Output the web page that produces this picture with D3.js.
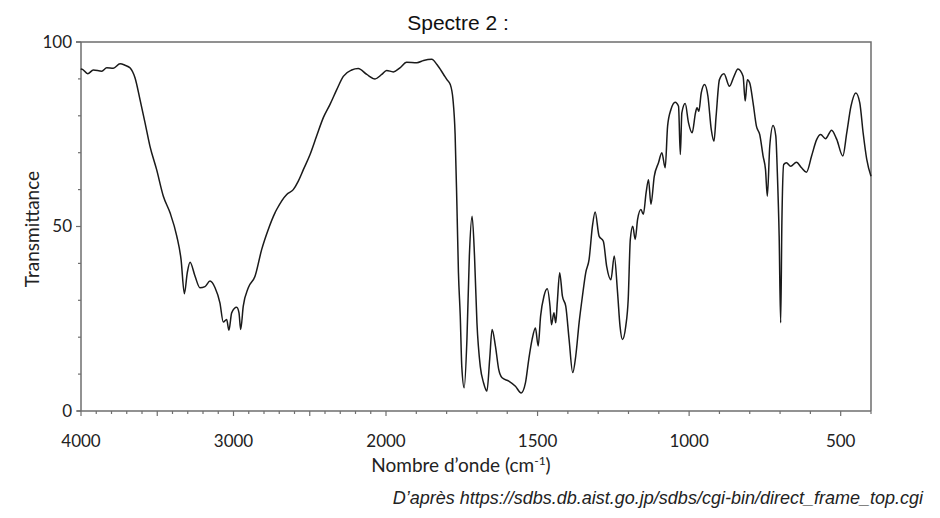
<!DOCTYPE html>
<html>
<head>
<meta charset="utf-8">
<script src="https://cdn.jsdelivr.net/npm/d3@7"></script>
<style>
  body { margin: 0; background: #fff; }
  svg { display: block; }
</style>
</head>
<body>
<div id="chart"></div>
<script>
// wavenumbers (cm-1) and transmittance (%)
const waveNumbers = [4000, 3996, 3956, 3919, 3864, 3831, 3788, 3744, 3711, 3679,
  3646, 3613, 3580, 3548, 3504, 3460, 3416, 3372, 3344, 3322,
  3303, 3285, 3252, 3220, 3187, 3154, 3121, 3089, 3067, 3045,
  3030, 3012, 2979, 2964, 2953, 2936, 2903, 2859, 2815, 2772,
  2728, 2717, 2651, 2608, 2575, 2542, 2498, 2455, 2411, 2367,
  2323, 2280, 2225, 2182, 2126, 2072, 2028, 1998, 1976, 1954,
  1932, 1898, 1876, 1849, 1832, 1810, 1799, 1788, 1779, 1772,
  1766, 1761, 1755, 1750, 1742, 1733, 1725, 1716, 1708, 1700,
  1689, 1678, 1667, 1658, 1650, 1639, 1628, 1617, 1595, 1573,
  1554, 1540, 1529, 1518, 1507, 1498, 1490, 1479, 1468, 1459,
  1454, 1446, 1440, 1435, 1427, 1418, 1407, 1396, 1384, 1374,
  1363, 1352, 1341, 1330, 1319, 1310, 1297, 1283, 1272, 1258,
  1247, 1236, 1228, 1220, 1209, 1201, 1194, 1186, 1178, 1170,
  1159, 1151, 1142, 1134, 1126, 1115, 1101, 1090, 1079, 1071,
  1060, 1046, 1035, 1029, 1024, 1013, 1002, 990, 979, 974,
  968, 960, 949, 938, 927, 918, 911, 900, 885, 867,
  852, 839, 822, 815, 808, 800, 789, 778, 767, 756,
  748, 742, 734, 723, 714, 709, 703, 698, 694, 688,
  679, 665, 646, 629, 613, 596, 579, 566, 550, 530,
  513, 493, 480, 466, 450, 437, 426, 414, 400];

const transmittance = [92.5, 92.7, 91.4, 92.4, 92.1, 93.0, 92.9, 94.1, 93.7, 93.0,
  90.3, 84.4, 78.1, 71.8, 65.4, 58.2, 53.7, 47.4, 41.1, 31.8,
  37.5, 40.3, 36.5, 33.4, 33.7, 35.2, 33.4, 29.3, 24.1, 24.8,
  21.9, 26.6, 28.1, 26.6, 22.1, 28.4, 33.4, 36.5, 43.8, 49.2,
  53.7, 54.6, 58.7, 60.0, 62.3, 65.4, 69.5, 74.5, 79.5, 83.1,
  87.1, 90.7, 92.4, 92.8, 91.2, 90.0, 91.2, 92.3, 91.9, 93.0,
  94.5, 94.4, 95.0, 95.3, 93.9, 91.2, 89.8, 88.5, 84.4, 75.0,
  55.5, 37.5, 25.7, 12.1, 6.3, 19.4, 42.0, 52.8, 42.0, 23.9,
  12.1, 7.6, 5.4, 14.0, 22.1, 17.6, 11.2, 9.0, 8.1, 6.7,
  4.9, 7.6, 14.0, 19.4, 22.5, 17.6, 25.7, 31.1, 33.1, 28.4,
  23.4, 26.6, 23.9, 29.3, 37.5, 31.1, 28.4, 19.4, 10.4, 14.9,
  23.9, 31.1, 37.5, 41.1, 50.1, 53.9, 47.4, 46.0, 39.2, 35.6,
  42.0, 32.0, 23.0, 19.4, 23.0, 30.2, 46.5, 50.1, 46.5, 51.9,
  54.6, 53.3, 59.1, 62.7, 56.0, 63.6, 67.3, 70.0, 65.9, 77.2,
  81.7, 83.7, 82.6, 69.5, 80.8, 83.3, 78.1, 75.4, 80.8, 82.2,
  81.2, 86.2, 88.5, 85.3, 76.3, 73.1, 79.9, 89.8, 91.4, 88.0,
  90.7, 92.7, 90.7, 84.0, 89.8, 88.9, 83.5, 77.2, 74.9, 69.1,
  65.4, 58.2, 71.8, 77.4, 74.5, 64.6, 47.4, 23.9, 51.0, 66.8,
  67.3, 66.3, 67.4, 65.9, 64.7, 69.1, 73.6, 74.9, 73.8, 76.1,
  73.6, 69.1, 75.4, 82.6, 86.2, 83.5, 75.4, 68.2, 63.6];

// axis breakpoints: the scale doubles below 2000 cm-1
const xBreaks = [4000, 2000, 400];
const xLabels = [4000, 3000, 2000, 1500, 1000, 500];
const yLabels = [0, 50, 100];

const width = 940, height = 518;
const margin = { top: 42, right: 69, bottom: 107, left: 81 };

const svg = d3.select("#chart")
  .append("svg")
    .attr("width", width)
    .attr("height", height)
    .attr("viewBox", `0 0 ${width} ${height}`);

const x = d3.scaleLinear()
  .domain(xBreaks)
  .range([margin.left, 386, width - margin.right]);

const y = d3.scaleLinear()
  .domain([0, 100])
  .range([height - margin.bottom, margin.top]);

const axisColor = "#6e6e6e";
const x0 = x(4000), x1 = x(400), y0 = y(0), y1 = y(100);

// frame (top and right)
svg.append("path")
  .attr("d", `M${x0 - 5},${y1}H${x1}V${y0}`)
  .attr("fill", "none")
  .attr("stroke", axisColor)
  .attr("stroke-width", 1.5);

// x axis: minor ticks every 100, longer ones every 500
const xTicks = d3.range(4000, 399, -100);
const xAxis = svg.append("g");
xAxis.append("line")
  .attr("x1", x0 - 4).attr("x2", x1)
  .attr("y1", y0).attr("y2", y0)
  .attr("stroke", axisColor).attr("stroke-width", 1.5);
xAxis.selectAll(".xtick")
  .data(xTicks)
  .join("line")
    .attr("class", "xtick")
    .attr("x1", d => x(d)).attr("x2", d => x(d))
    .attr("y1", y0)
    .attr("y2", d => y0 + (d % 500 === 0 ? 5 : 3))
    .attr("stroke", axisColor).attr("stroke-width", 1.2);
xAxis.selectAll(".xlabel")
  .data(xLabels)
  .join("text")
    .attr("class", "xlabel")
    .attr("x", d => x(d))
    .attr("y", y0 + 36)
    .attr("text-anchor", "middle")
    .attr("font-family", "Lato, 'Open Sans', sans-serif")
    .attr("font-size", 17)
    .attr("fill", "#222")
    .text(d => d);

// y axis: minor ticks every 10
const yAxis = svg.append("g");
yAxis.append("line")
  .attr("x1", x0).attr("x2", x0)
  .attr("y1", y1).attr("y2", y0)
  .attr("stroke", axisColor).attr("stroke-width", 1.5);
yAxis.selectAll(".ytick")
  .data(d3.range(0, 101, 10))
  .join("line")
    .attr("class", "ytick")
    .attr("x1", x0)
    .attr("x2", d => x0 - (d % 50 === 0 ? 5 : 3))
    .attr("y1", d => y(d)).attr("y2", d => y(d))
    .attr("stroke", axisColor).attr("stroke-width", 1.2);
yAxis.selectAll(".ylabel")
  .data(yLabels)
  .join("text")
    .attr("class", "ylabel")
    .attr("x", x0 - 9)
    .attr("y", d => y(d))
    .attr("dy", "0.35em")
    .attr("text-anchor", "end")
    .attr("font-family", "Lato, 'Open Sans', sans-serif")
    .attr("font-size", 17)
    .attr("fill", "#222")
    .text(d => d);

// the spectrum
const points = waveNumbers.map((wn, i) => [wn, transmittance[i]]);
const line = d3.line()
  .x(d => x(d[0]))
  .y(d => y(d[1]))
  .curve(d3.curveMonotoneX);

svg.append("path")
  .datum(points)
  .attr("d", line)
  .attr("fill", "none")
  .attr("stroke", "#1a1a1a")
  .attr("stroke-width", 1.5)
  .attr("stroke-linejoin", "round");

// titles
svg.append("text")
  .attr("x", 458).attr("y", 30)
  .attr("text-anchor", "middle")
  .attr("font-family", "'Liberation Sans', Arial, sans-serif")
  .attr("font-size", 21)
  .attr("fill", "#111")
  .text("Spectre 2 :");

svg.append("text")
  .attr("transform", `translate(39, 229) rotate(-90)`)
  .attr("text-anchor", "middle")
  .attr("font-family", "Lato, 'Open Sans', sans-serif")
  .attr("font-size", 19)
  .attr("fill", "#222")
  .text("Transmittance");

const xTitle = svg.append("text")
  .attr("x", 461).attr("y", 472)
  .attr("text-anchor", "middle")
  .attr("font-family", "Lato, 'Open Sans', sans-serif")
  .attr("font-size", 19)
  .attr("fill", "#222");
xTitle.append("tspan").text("Nombre d\u2019onde (cm");
xTitle.append("tspan").attr("dy", -7).attr("font-size", 12).text("-1");
xTitle.append("tspan").attr("dy", 7).text(")");

svg.append("text")
  .attr("x", 923).attr("y", 504)
  .attr("text-anchor", "end")
  .attr("font-family", "'Liberation Sans', Arial, sans-serif")
  .attr("font-style", "italic")
  .attr("font-size", 18)
  .attr("fill", "#222")
  .text("D\u2019apr\u00e8s https://sdbs.db.aist.go.jp/sdbs/cgi-bin/direct_frame_top.cgi");
</script>
</body>
</html>
